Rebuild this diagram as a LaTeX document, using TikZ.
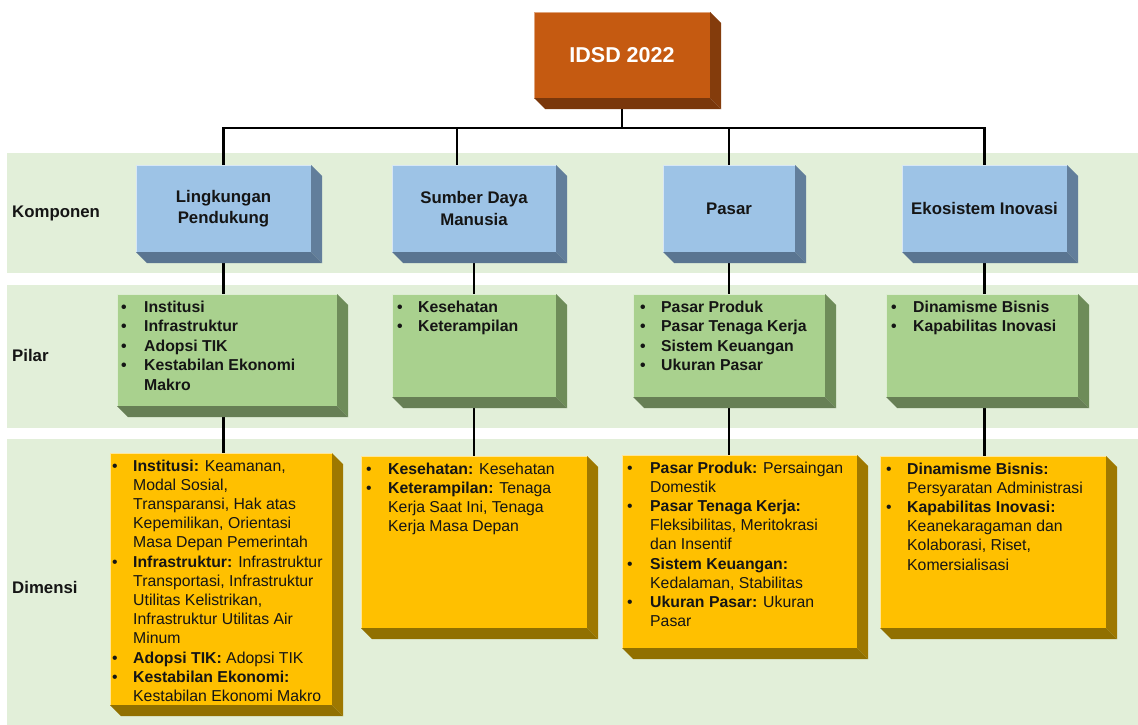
\documentclass[tikz,border=0pt]{standalone}
\usepackage{fontspec}
\setmainfont{Liberation Sans}
\usetikzlibrary{calc}
\pgfdeclarelayer{bg}
\pgfdeclarelayer{lines}
\pgfsetlayers{bg,lines,main}
\definecolor{band}{HTML}{E2EFD9}
\definecolor{orfront}{HTML}{C55A11}
\definecolor{orside}{HTML}{843C0C}
\definecolor{orbot}{HTML}{7A370B}
\definecolor{bfront}{HTML}{9DC3E6}
\definecolor{bside}{HTML}{627E9B}
\definecolor{bbot}{HTML}{5A7591}
\definecolor{gfront}{HTML}{A9D18E}
\definecolor{gside}{HTML}{6E8C59}
\definecolor{gbot}{HTML}{677F55}
\definecolor{yfront}{HTML}{FFC000}
\definecolor{yside}{HTML}{9E7800}
\definecolor{ybot}{HTML}{917000}
\definecolor{ink}{HTML}{151515}
\newcommand{\sidefaces}[4]{%
  \fill[#2] (#1.north east) -- ++(#4,#4) -- ($(#1.south east)+(#4,#4)$) -- (#1.south east) -- cycle;
  \fill[#3] (#1.south west) -- (#1.south east) -- ($(#1.south east)+(#4,#4)$) -- ($(#1.south west)+(#4,#4)$) -- cycle;
}
\tikzset{
  base/.style={anchor=north west, inner sep=0pt, outer sep=0pt, line width=0.8pt},
  topbox/.style={base, fill=orfront, draw=orfront!55!white, text=white,
     font=\fontsize{21.5}{25}\selectfont\bfseries},
  kbox/.style={base, fill=bfront, draw=bfront!40!white, text=ink, align=center,
     font=\fontsize{16.8}{21.5}\selectfont\bfseries},
  pbox/.style={base, fill=gfront, draw=gfront!40!white},
  dbox/.style={base, fill=yfront, draw=yfront!40!white},
  ptxt/.style={anchor=north west, inner sep=0pt, text=ink,
     font=\fontsize{15.8}{19.5}\selectfont\bfseries},
  dtxt/.style={anchor=north west, inner sep=0pt, text=ink,
     font=\fontsize{15.8}{19.2}\selectfont},
  lbl/.style={anchor=west, inner sep=0pt, text=ink,
     font=\fontsize{16.8}{20}\selectfont\bfseries},
  conn/.style={line width=2.4pt, black}
}
\begin{document}
\begin{tikzpicture}[x=1pt,y=-1pt]
\useasboundingbox (0,0) rectangle (1138,725);
\begin{pgfonlayer}{bg}
  \fill[white] (0,0) rectangle (1138,725);
  \fill[band] (7,153) rectangle (1138,273);
  \fill[band] (7,285) rectangle (1138,428);
  \fill[band] (7,439) rectangle (1138,725);
\end{pgfonlayer}

% row labels
\node[lbl] (l1) at (12,213) {Komponen};
\node[lbl] (l2) at (12,355) {Pilar};
\node[lbl] (l3) at (12,587) {Dimensi};

% top box
\node[topbox, minimum width=176pt, minimum height=86pt] (top) at (534,12) {IDSD 2022};
\sidefaces{top}{orside}{orbot}{11}

% komponen
\node[kbox, minimum width=175pt, minimum height=87pt] (k1) at (136,165) {Lingkungan\\Pendukung};
\node[kbox, minimum width=164pt, minimum height=87pt] (k2) at (392,165) {Sumber Daya\\Manusia};
\node[kbox, minimum width=132pt, minimum height=87pt] (k3) at (663,165) {Pasar};
\node[kbox, minimum width=165pt, minimum height=87pt] (k4) at (902,165) {Ekosistem Inovasi};
\foreach \n in {k1,k2,k3,k4}{\sidefaces{\n}{bside}{bbot}{11}}

% pilar
\node[pbox, minimum width=220pt, minimum height=112pt] (p1) at (117,294) {};
\node[pbox, minimum width=164pt, minimum height=103pt] (p2) at (392,294) {};
\node[pbox, minimum width=192pt, minimum height=103pt] (p3) at (633,294) {};
\node[pbox, minimum width=192pt, minimum height=103pt] (p4) at (886,294) {};
\foreach \n in {p1,p2,p3,p4}{\sidefaces{\n}{gside}{gbot}{11}}

% dimensi
\node[dbox, minimum width=222pt, minimum height=252pt] (d1) at (110,453) {};
\node[dbox, minimum width=226pt, minimum height=172pt] (d2) at (361,456) {};
\node[dbox, minimum width=235pt, minimum height=193pt] (d3) at (622,455) {};
\node[dbox, minimum width=226pt, minimum height=172pt] (d4) at (880,456) {};
\foreach \n in {d1,d2,d3,d4}{\sidefaces{\n}{yside}{ybot}{11}}

% pilar texts
\node[ptxt] (p1t) at ($(p1.north west)+(4,4.5)$) {\begin{tabular}{@{}p{23pt}@{}l@{}}
\textbullet & Institusi\\
\textbullet & Infrastruktur\\
\textbullet & Adopsi TIK\\
\textbullet & Kestabilan Ekonomi\\
 & Makro
\end{tabular}};
\node[ptxt] (p2t) at ($(p2.north west)+(5,4.5)$) {\begin{tabular}{@{}p{21pt}@{}l@{}}
\textbullet & Kesehatan\\
\textbullet & Keterampilan
\end{tabular}};
\node[ptxt] (p3t) at ($(p3.north west)+(7,4.5)$) {\begin{tabular}{@{}p{21pt}@{}l@{}}
\textbullet & Pasar Produk\\
\textbullet & Pasar Tenaga Kerja\\
\textbullet & Sistem Keuangan\\
\textbullet & Ukuran Pasar
\end{tabular}};
\node[ptxt] (p4t) at ($(p4.north west)+(5,4.5)$) {\begin{tabular}{@{}p{22pt}@{}l@{}}
\textbullet & Dinamisme Bisnis\\
\textbullet & Kapabilitas Inovasi
\end{tabular}};

% dimensi texts
\node[dtxt] (d1t) at ($(d1.north west)+(2,4.5)$) {\begin{tabular}{@{}p{21pt}@{}l@{}}
\textbullet & \textbf{Institusi:} Keamanan,\\
 & Modal Sosial,\\
 & Transparansi, Hak atas\\
 & Kepemilikan, Orientasi\\
 & Masa Depan Pemerintah\\
\textbullet & \textbf{Infrastruktur:} Infrastruktur\\
 & Transportasi, Infrastruktur\\
 & Utilitas Kelistrikan,\\
 & Infrastruktur Utilitas Air\\
 & Minum\\
\textbullet & \textbf{Adopsi TIK:} Adopsi TIK\\
\textbullet & \textbf{Kestabilan Ekonomi:}\\
 & Kestabilan Ekonomi Makro
\end{tabular}};
\node[dtxt] (d2t) at ($(d2.north west)+(5,4.5)$) {\begin{tabular}{@{}p{22pt}@{}l@{}}
\textbullet & \textbf{Kesehatan:} Kesehatan\\
\textbullet & \textbf{Keterampilan:} Tenaga\\
 & Kerja Saat Ini, Tenaga\\
 & Kerja Masa Depan
\end{tabular}};
\node[dtxt] (d3t) at ($(d3.north west)+(5,4.5)$) {\begin{tabular}{@{}p{23pt}@{}l@{}}
\textbullet & \textbf{Pasar Produk:} Persaingan\\
 & Domestik\\
\textbullet & \textbf{Pasar Tenaga Kerja:}\\
 & Fleksibilitas, Meritokrasi\\
 & dan Insentif\\
\textbullet & \textbf{Sistem Keuangan:}\\
 & Kedalaman, Stabilitas\\
\textbullet & \textbf{Ukuran Pasar:} Ukuran\\
 & Pasar
\end{tabular}};
\node[dtxt] (d4t) at ($(d4.north west)+(6,4.5)$) {\begin{tabular}{@{}p{21pt}@{}l@{}}
\textbullet & \textbf{Dinamisme Bisnis:}\\
 & Persyaratan Administrasi\\
\textbullet & \textbf{Kapabilitas Inovasi:}\\
 & Keanekaragaman dan\\
 & Kolaborasi, Riset,\\
 & Komersialisasi
\end{tabular}};

% connectors
\coordinate (bus) at (0,128);
\coordinate (k2t) at ($(k2.north)+(-17,0)$);
\begin{pgfonlayer}{lines}
  \draw[conn] (top.south) -- (top.south |- bus);
  \draw[conn] (k1.north) -- (k1.north |- bus) -- (k4.north |- bus) -- (k4.north);
  \draw[conn] (k2t) -- (k2t |- bus);
  \draw[conn] (k3.north) -- (k3.north |- bus);
  \foreach \i in {1,2,3,4}{
    \draw[conn] (k\i.south) -- (k\i.south |- p\i.north);
    \draw[conn] (k\i.south |- p\i.south) -- (k\i.south |- d\i.north);
  }
\end{pgfonlayer}
\end{tikzpicture}
\end{document}
